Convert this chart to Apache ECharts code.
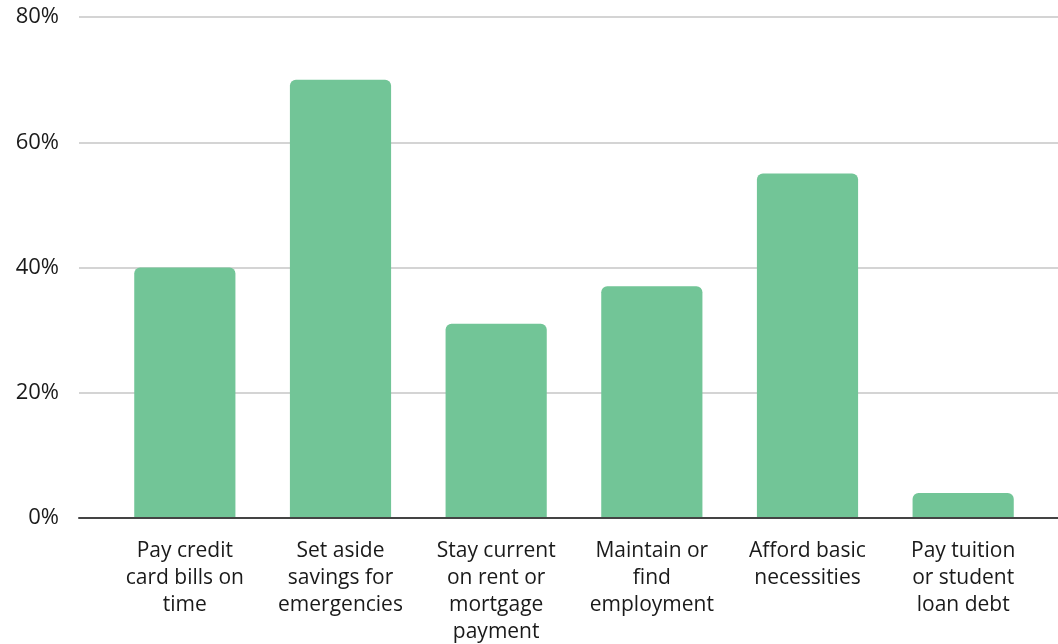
<!DOCTYPE html>
<html><head><meta charset="utf-8">
<script src="https://cdn.jsdelivr.net/npm/echarts@6/dist/echarts.min.js"></script>
<style>html,body{margin:0;padding:0;background:#fff}#c{width:1058px;height:644px}</style>
</head><body><div id="c"></div>
<script>
const categories = [
  "Pay credit\ncard bills on\ntime",
  "Set aside\nsavings for\nemergencies",
  "Stay current\non rent or\nmortgage\npayment",
  "Maintain or\nfind\nemployment",
  "Afford basic\nnecessities",
  "Pay tuition\nor student\nloan debt"
];
const values = [40, 70, 31, 37, 55, 4];
const yTicks = [0, 20, 40, 60, 80];

const FONT = "'Open Sans', sans-serif";
const chart = echarts.init(document.getElementById('c'), null, {renderer: 'canvas'});
chart.setOption({
  animation: false,
  backgroundColor: '#fff',
  grid: [
    {left: 79, right: 0, top: 17, bottom: 126, containLabel: false, outerBoundsMode: 'none'},
    {left: 107, right: 17, top: 17, bottom: 126, containLabel: false, outerBoundsMode: 'none'}
  ],
  xAxis: [
    {gridIndex: 0, type: 'value', min: 0, max: 1, show: true, z: 5,
     axisLine: {show: true, lineStyle: {color: '#444', width: 2}},
     axisTick: {show: false}, axisLabel: {show: false}, splitLine: {show: false}},
    {gridIndex: 1, type: 'category', data: categories,
     axisLine: {show: false}, axisTick: {show: false},
     axisLabel: {interval: 0, margin: 20, fontFamily: FONT, fontSize: 21, color: '#1a1a1a', lineHeight: 27}}
  ],
  yAxis: [
    {gridIndex: 0, type: 'value', min: yTicks[0], max: yTicks[yTicks.length-1], interval: 20,
     axisLine: {show: false}, axisTick: {show: false},
     axisLabel: {formatter: v => v + '%', fontFamily: FONT, fontSize: 22, color: '#1a1a1a', margin: 20},
     splitLine: {lineStyle: {color: '#d4d4d4', width: 2}}},
    {gridIndex: 1, type: 'value', min: yTicks[0], max: yTicks[yTicks.length-1], interval: 20, show: false, splitLine: {show: false}}
  ],
  series: [{
    type: 'bar', xAxisIndex: 1, yAxisIndex: 1, data: values,
    barWidth: '65%', z: 1,
    itemStyle: {color: '#72C597', borderRadius: [6, 6, 0, 0]}
  }]
});
</script></body></html>
